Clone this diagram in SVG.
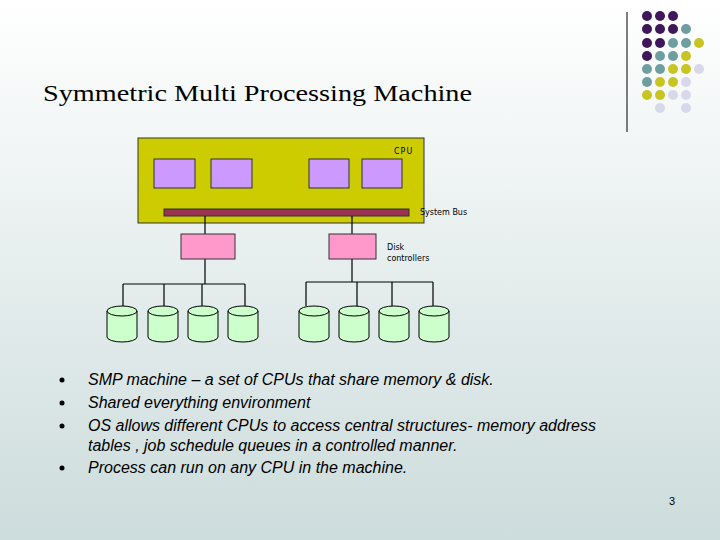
<svg xmlns="http://www.w3.org/2000/svg" width="720" height="540" viewBox="0 0 720 540">
<defs>
<linearGradient id="bg" x1="0" y1="0" x2="0" y2="1"><stop offset="0" stop-color="#ffffff"/><stop offset="1" stop-color="#cddcdc"/></linearGradient>
<g id="disk"><path d="M0 5 A15 5 0 0 1 30 5 V31 A15 5 0 0 1 0 31 Z" fill="#ccffcc" stroke="#000" stroke-width="1"/><path d="M0 5 A15 5 0 0 0 30 5" fill="none" stroke="#000"/></g>
</defs>
<style>
.p{fill:#3f1659}.t{fill:#6f9ea0}.y{fill:#c8c422}.l{fill:#d8d8ea}
.cpu{fill:#cc99ff;stroke:#333;stroke-width:1}
.ctl{fill:#ff99cc;stroke:#333;stroke-width:1}
.ln{stroke:#000;stroke-width:1.2;fill:none}
.sm{font-family:"DejaVu Sans",sans-serif;font-size:8px;fill:#000}
.b{font-family:"Liberation Sans",Arial,sans-serif;font-size:16px;font-style:italic;fill:#000}
</style>
<rect width="720" height="540" fill="url(#bg)"/>
<g id="logo">
<line x1="627" y1="12" x2="627" y2="132" stroke="#000"/>
<g>
<circle cx="647" cy="16" r="5" class="p"/><circle cx="660" cy="16" r="5" class="p"/><circle cx="673" cy="16" r="5" class="p"/>
<circle cx="647" cy="29" r="5" class="p"/><circle cx="660" cy="29" r="5" class="p"/><circle cx="673" cy="29" r="5" class="p"/><circle cx="686" cy="29" r="5" class="t"/>
<circle cx="647" cy="43" r="5" class="p"/><circle cx="660" cy="43" r="5" class="p"/><circle cx="673" cy="43" r="5" class="t"/><circle cx="686" cy="43" r="5" class="t"/><circle cx="699" cy="43" r="5" class="y"/>
<circle cx="647" cy="56" r="5" class="p"/><circle cx="660" cy="56" r="5" class="t"/><circle cx="673" cy="56" r="5" class="t"/><circle cx="686" cy="56" r="5" class="y"/>
<circle cx="647" cy="69" r="5" class="t"/><circle cx="660" cy="69" r="5" class="t"/><circle cx="673" cy="69" r="5" class="y"/><circle cx="686" cy="69" r="5" class="y"/><circle cx="699" cy="69" r="5" class="l"/>
<circle cx="647" cy="82" r="5" class="t"/><circle cx="660" cy="82" r="5" class="y"/><circle cx="673" cy="82" r="5" class="y"/><circle cx="686" cy="82" r="5" class="l"/>
<circle cx="647" cy="95" r="5" class="y"/><circle cx="660" cy="95" r="5" class="y"/><circle cx="673" cy="95" r="5" class="l"/><circle cx="686" cy="95" r="5" class="l"/>
<circle cx="660" cy="108" r="5" class="l"/><circle cx="686" cy="108" r="5" class="l"/>
</g>
</g>
<text x="43" y="101" font-family="Liberation Serif,serif" font-size="24" textLength="429" lengthAdjust="spacingAndGlyphs" fill="#000">Symmetric Multi Processing Machine</text>
<g id="board"><rect x="138" y="138" width="286" height="85" fill="#cccc00" stroke="#333"/>
<text x="394" y="154" class="sm" letter-spacing="1">CPU</text></g>
<g id="cpu1"><rect x="154" y="159" width="41" height="29" class="cpu"/></g>
<g id="cpu2"><rect x="211" y="159" width="41" height="29" class="cpu"/></g>
<g id="cpu3"><rect x="309" y="159" width="40" height="29" class="cpu"/></g>
<g id="cpu4"><rect x="362" y="159" width="40" height="29" class="cpu"/></g>
<g id="bus"><rect x="164" y="209" width="245" height="7" fill="#993355" stroke="#333"/>
<text x="420" y="215" class="sm">System Bus</text></g>
<g id="connectors">
<path class="ln" d="M205 216V234 M205 259V284 M123 284H245 M123 284V306 M164 284V306 M202 284V306 M245 284V306"/>
<path class="ln" d="M352 216V234 M352 259V282 M306 282H433 M306 282V306 M357 282V306 M392 282V306 M433 282V306"/>
</g>
<g id="ctl1"><rect x="181" y="234" width="54" height="25" class="ctl"/></g>
<g id="ctl2"><rect x="329" y="234" width="47" height="25" class="ctl"/>
<text x="387" y="250" class="sm">Disk</text><text x="387" y="261" class="sm">controllers</text></g>
<g id="d1"><use href="#disk" x="107" y="306"/></g>
<g id="d2"><use href="#disk" x="148" y="306"/></g>
<g id="d3"><use href="#disk" x="188" y="306"/></g>
<g id="d4"><use href="#disk" x="228" y="306"/></g>
<g id="d5"><use href="#disk" x="299" y="306"/></g>
<g id="d6"><use href="#disk" x="339" y="306"/></g>
<g id="d7"><use href="#disk" x="379" y="306"/></g>
<g id="d8"><use href="#disk" x="419" y="306"/></g>
<g id="bullets" fill="#000">
<circle cx="62" cy="380" r="2.5"/><circle cx="62" cy="403" r="2.5"/><circle cx="62" cy="426" r="2.5"/><circle cx="62" cy="468" r="2.5"/>
</g>
<text x="88" y="385" class="b">SMP machine – a set of CPUs that share memory &amp; disk.</text>
<text x="88" y="408" class="b">Shared everything environment</text>
<text x="88" y="431" class="b" textLength="508" lengthAdjust="spacingAndGlyphs">OS allows different CPUs to access central structures- memory address</text>
<text x="88" y="451" class="b">tables , job schedule queues in a controlled manner.</text>
<text x="88" y="473" class="b">Process can run on any CPU in the machine.</text>
<text x="669" y="505" font-family="Liberation Sans,sans-serif" font-size="11" fill="#000">3</text>
</svg>
